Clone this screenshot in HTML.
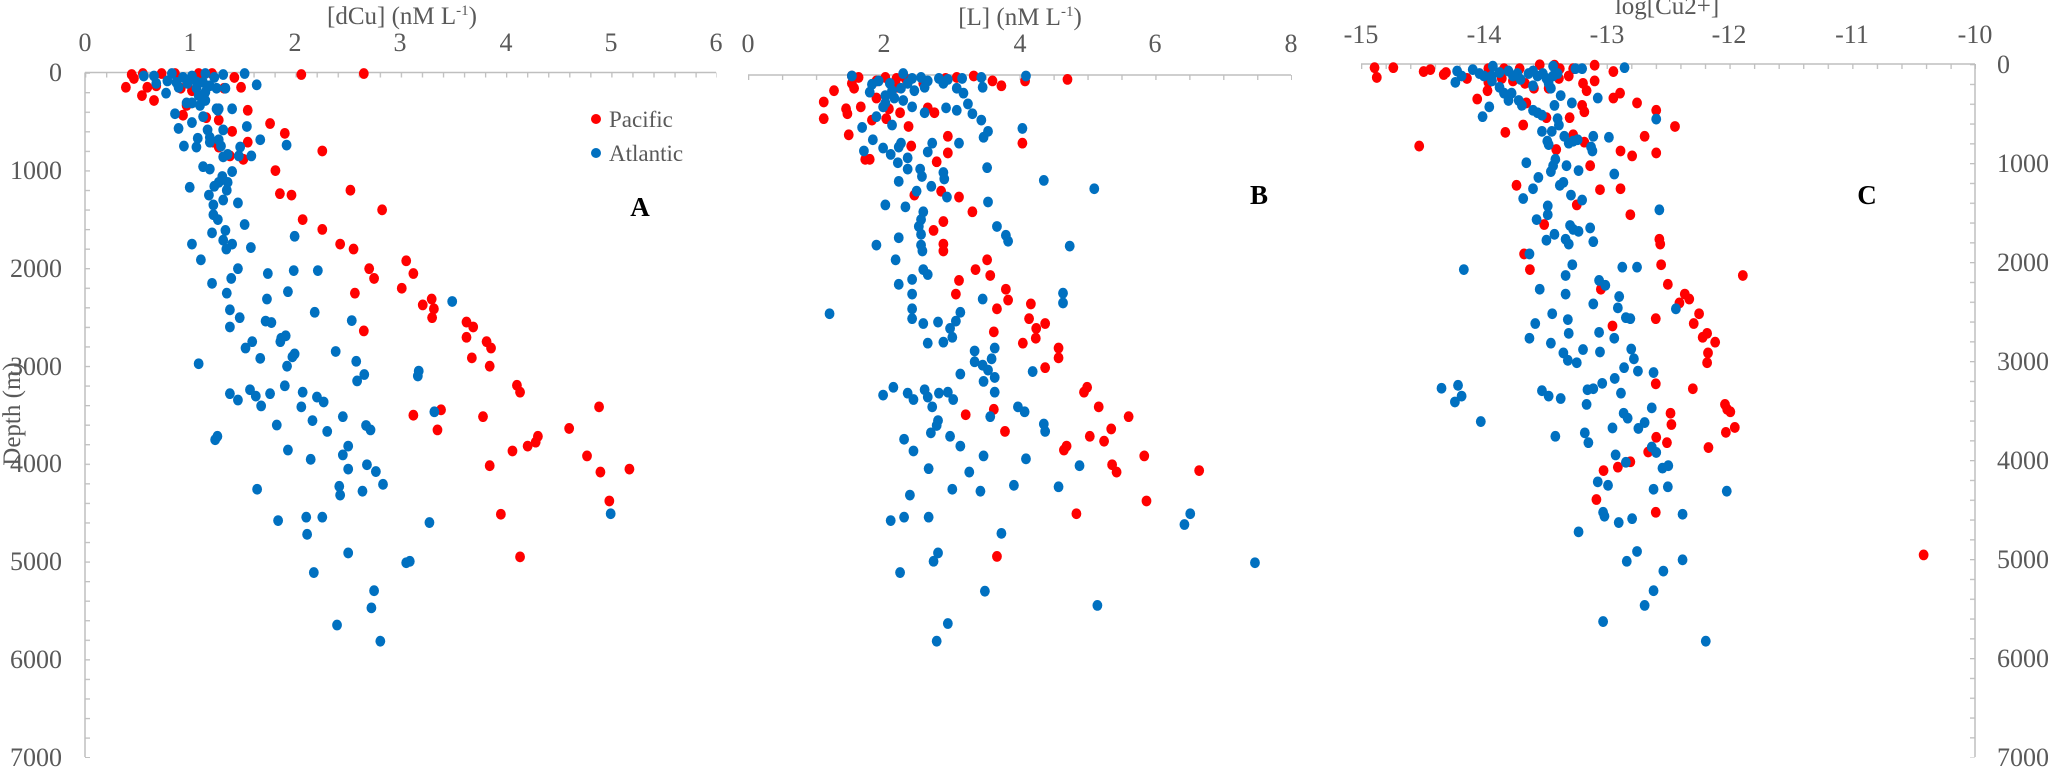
<!DOCTYPE html>
<html><head><meta charset="utf-8"><style>
html,body{margin:0;padding:0;background:#fff;}
svg{display:block;}
text{font-family:"Liberation Serif",serif;fill:#595959;}
circle{r:11px;}
</style></head><body>
<svg width="2050" height="769" viewBox="0 0 2050 769" xmlns="http://www.w3.org/2000/svg">
<defs>
<pattern id="pay" x="0" y="72.5" width="10" height="19.557" patternUnits="userSpaceOnUse"><rect x="0" y="0" width="10" height="1.3" fill="#bfbfbf"/></pattern>
<pattern id="pax" x="85" y="0" width="21.05" height="10" patternUnits="userSpaceOnUse"><rect x="0" y="0" width="1.3" height="10" fill="#bfbfbf"/></pattern>
<pattern id="pbx" x="748" y="0" width="33.94" height="10" patternUnits="userSpaceOnUse"><rect x="0" y="0" width="1.3" height="10" fill="#bfbfbf"/></pattern>
<pattern id="pcx" x="1361" y="0" width="24.56" height="10" patternUnits="userSpaceOnUse"><rect x="0" y="0" width="1.3" height="10" fill="#bfbfbf"/></pattern>
<pattern id="pcy" x="0" y="64" width="10" height="19.8" patternUnits="userSpaceOnUse"><rect x="0" y="0" width="10" height="1.3" fill="#bfbfbf"/></pattern>
</defs>
<rect width="2050" height="769" fill="#fff"/>
<line x1="85" y1="72.5" x2="716" y2="72.5" stroke="#bfbfbf" stroke-width="1.5"/>
<line x1="85" y1="72.5" x2="85" y2="757" stroke="#bfbfbf" stroke-width="1.5"/>
<rect x="85" y="72" width="5" height="686" fill="url(#pay)"/>
<rect x="85" y="72.5" width="632" height="5" fill="url(#pax)"/>
<line x1="748" y1="75" x2="1291" y2="75" stroke="#bfbfbf" stroke-width="1.5"/>
<rect x="748" y="75" width="544" height="5" fill="url(#pbx)"/>
<line x1="1361" y1="64" x2="1975" y2="64" stroke="#bfbfbf" stroke-width="1.5"/>
<line x1="1975" y1="64" x2="1975" y2="757" stroke="#bfbfbf" stroke-width="1.5"/>
<rect x="1361" y="64" width="615" height="5" fill="url(#pcx)"/>
<rect x="1970" y="63.5" width="5" height="694" fill="url(#pcy)"/>

<g font-size="26" text-anchor="middle">
<text x="85" y="51">0</text><text x="190" y="51">1</text><text x="295" y="51">2</text><text x="400" y="51">3</text><text x="506" y="51">4</text><text x="611" y="51">5</text><text x="716" y="51">6</text>
<text x="748" y="52">0</text><text x="884" y="52">2</text><text x="1020" y="52">4</text><text x="1155" y="52">6</text><text x="1291" y="52">8</text>
<text x="1361" y="43">-15</text><text x="1484" y="43">-14</text><text x="1607" y="43">-13</text><text x="1729" y="43">-12</text><text x="1852" y="43">-11</text><text x="1975" y="43">-10</text>
</g>
<g font-size="26" text-anchor="end">
<text x="62" y="81">0</text><text x="62" y="179">1000</text><text x="62" y="277">2000</text><text x="62" y="375">3000</text><text x="62" y="472">4000</text><text x="62" y="570">5000</text><text x="62" y="668">6000</text><text x="62" y="766">7000</text>
</g>
<g font-size="26" text-anchor="start">
<text x="1997" y="73">0</text><text x="1997" y="172">1000</text><text x="1997" y="271">2000</text><text x="1997" y="370">3000</text><text x="1997" y="469">4000</text><text x="1997" y="568">5000</text><text x="1997" y="667">6000</text><text x="1997" y="766">7000</text>
</g>
<text x="402" y="24" font-size="25" text-anchor="middle">[dCu] (nM L<tspan font-size="15" dy="-9">-1</tspan><tspan dy="9">)</tspan></text>
<text x="1020" y="25" font-size="25" text-anchor="middle">[L] (nM L<tspan font-size="15" dy="-9">-1</tspan><tspan dy="9">)</tspan></text>
<text x="1667" y="14" font-size="25" text-anchor="middle">log[Cu2+]</text>
<text transform="translate(20,414) rotate(-90)" font-size="25" text-anchor="middle">Depth (m)</text>
<circle cx="596" cy="119" style="r:5px" fill="#ff0000"/><text x="609" y="127" font-size="23">Pacific</text>
<circle cx="596" cy="153" style="r:5px" fill="#0070c0"/><text x="609" y="161" font-size="23">Atlantic</text>
<g font-size="27" font-weight="bold" text-anchor="middle">
<text x="640" y="216" style="fill:#000">A</text><text x="1259" y="204" style="fill:#000">B</text><text x="1867" y="204" style="fill:#000">C</text>
</g>

<g transform="scale(0.4464,0.4902)">
<g fill="#ff0000">
<circle cx="282" cy="178" r="9"/><circle cx="300" cy="160" r="9"/><circle cx="320" cy="150" r="9"/><circle cx="295" cy="152" r="9"/><circle cx="318" cy="195" r="9"/><circle cx="330" cy="178" r="9"/><circle cx="345" cy="205" r="9"/><circle cx="350" cy="175" r="9"/><circle cx="362" cy="150" r="9"/><circle cx="392" cy="150" r="9"/><circle cx="405" cy="180" r="9"/><circle cx="418" cy="215" r="9"/><circle cx="410" cy="235" r="9"/><circle cx="430" cy="185" r="9"/><circle cx="445" cy="150" r="9"/><circle cx="475" cy="150" r="9"/><circle cx="490" cy="245" r="9"/><circle cx="502" cy="180" r="9"/><circle cx="525" cy="158" r="9"/><circle cx="540" cy="178" r="9"/><circle cx="462" cy="240" r="9"/><circle cx="478" cy="290" r="9"/><circle cx="490" cy="300" r="9"/><circle cx="515" cy="318" r="9"/><circle cx="545" cy="325" r="9"/><circle cx="520" cy="268" r="9"/><circle cx="555" cy="290" r="9"/><circle cx="555" cy="225" r="9"/><circle cx="605" cy="252" r="9"/><circle cx="638" cy="272" r="9"/><circle cx="722" cy="308" r="9"/><circle cx="617" cy="348" r="9"/><circle cx="627" cy="395" r="9"/><circle cx="653" cy="398" r="9"/><circle cx="785" cy="388" r="9"/><circle cx="856" cy="428" r="9"/><circle cx="678" cy="448" r="9"/><circle cx="722" cy="468" r="9"/><circle cx="762" cy="498" r="9"/><circle cx="792" cy="508" r="9"/><circle cx="910" cy="532" r="9"/><circle cx="926" cy="558" r="9"/><circle cx="827" cy="548" r="9"/><circle cx="838" cy="568" r="9"/><circle cx="900" cy="588" r="9"/><circle cx="795" cy="598" r="9"/><circle cx="967" cy="610" r="9"/><circle cx="947" cy="622" r="9"/><circle cx="972" cy="630" r="9"/><circle cx="968" cy="648" r="9"/><circle cx="1045" cy="657" r="9"/><circle cx="1060" cy="667" r="9"/><circle cx="1045" cy="688" r="9"/><circle cx="1090" cy="697" r="9"/><circle cx="1100" cy="710" r="9"/><circle cx="1057" cy="730" r="9"/><circle cx="1097" cy="747" r="9"/><circle cx="1158" cy="786" r="9"/><circle cx="1165" cy="800" r="9"/><circle cx="815" cy="675" r="9"/><circle cx="1342" cy="830" r="9"/><circle cx="988" cy="836" r="9"/><circle cx="926" cy="847" r="9"/><circle cx="1082" cy="850" r="9"/><circle cx="980" cy="877" r="9"/><circle cx="1275" cy="874" r="9"/><circle cx="1205" cy="890" r="9"/><circle cx="1200" cy="902" r="9"/><circle cx="1182" cy="910" r="9"/><circle cx="1148" cy="920" r="9"/><circle cx="1315" cy="930" r="9"/><circle cx="1097" cy="950" r="9"/><circle cx="1345" cy="963" r="9"/><circle cx="1410" cy="957" r="9"/><circle cx="1365" cy="1022" r="9"/><circle cx="1122" cy="1049" r="9"/><circle cx="1165" cy="1136" r="9"/><circle cx="675" cy="152" r="9"/><circle cx="815" cy="150" r="9"/>
</g>
<g fill="#0070c0">
<circle cx="322" cy="155" r="9"/><circle cx="345" cy="155" r="9"/><circle cx="385" cy="150" r="9"/><circle cx="410" cy="158" r="9"/><circle cx="430" cy="155" r="9"/><circle cx="460" cy="150" r="9"/><circle cx="480" cy="158" r="9"/><circle cx="500" cy="152" r="9"/><circle cx="548" cy="150" r="9"/><circle cx="575" cy="173" r="9"/><circle cx="350" cy="170" r="9"/><circle cx="375" cy="165" r="9"/><circle cx="395" cy="168" r="9"/><circle cx="372" cy="190" r="9"/><circle cx="400" cy="178" r="9"/><circle cx="440" cy="180" r="9"/><circle cx="455" cy="168" r="9"/><circle cx="470" cy="175" r="9"/><circle cx="485" cy="180" r="9"/><circle cx="430" cy="210" r="9"/><circle cx="448" cy="215" r="9"/><circle cx="418" cy="210" r="9"/><circle cx="460" cy="205" r="9"/><circle cx="392" cy="232" r="9"/><circle cx="430" cy="250" r="9"/><circle cx="455" cy="238" r="9"/><circle cx="465" cy="265" r="9"/><circle cx="470" cy="280" r="9"/><circle cx="488" cy="225" r="9"/><circle cx="490" cy="285" r="9"/><circle cx="500" cy="265" r="9"/><circle cx="490" cy="222" r="9"/><circle cx="505" cy="180" r="9"/><circle cx="400" cy="262" r="9"/><circle cx="412" cy="298" r="9"/><circle cx="440" cy="300" r="9"/><circle cx="443" cy="282" r="9"/><circle cx="470" cy="290" r="9"/><circle cx="495" cy="298" r="9"/><circle cx="500" cy="320" r="9"/><circle cx="510" cy="315" r="9"/><circle cx="485" cy="222" r="9"/><circle cx="520" cy="222" r="9"/><circle cx="553" cy="258" r="9"/><circle cx="583" cy="285" r="9"/><circle cx="538" cy="300" r="9"/><circle cx="642" cy="296" r="9"/><circle cx="563" cy="318" r="9"/><circle cx="535" cy="318" r="9"/><circle cx="455" cy="340" r="9"/><circle cx="470" cy="345" r="9"/><circle cx="520" cy="350" r="9"/><circle cx="498" cy="360" r="9"/><circle cx="490" cy="372" r="9"/><circle cx="510" cy="372" r="9"/><circle cx="480" cy="380" r="9"/><circle cx="508" cy="388" r="9"/><circle cx="425" cy="382" r="9"/><circle cx="468" cy="398" r="9"/><circle cx="478" cy="418" r="9"/><circle cx="500" cy="408" r="9"/><circle cx="533" cy="414" r="9"/><circle cx="478" cy="438" r="9"/><circle cx="488" cy="448" r="9"/><circle cx="548" cy="458" r="9"/><circle cx="475" cy="475" r="9"/><circle cx="505" cy="470" r="9"/><circle cx="500" cy="490" r="9"/><circle cx="520" cy="498" r="9"/><circle cx="507" cy="508" r="9"/><circle cx="562" cy="505" r="9"/><circle cx="660" cy="482" r="9"/><circle cx="430" cy="498" r="9"/><circle cx="450" cy="530" r="9"/><circle cx="533" cy="548" r="9"/><circle cx="600" cy="558" r="9"/><circle cx="658" cy="552" r="9"/><circle cx="712" cy="552" r="9"/><circle cx="475" cy="578" r="9"/><circle cx="518" cy="568" r="9"/><circle cx="508" cy="598" r="9"/><circle cx="598" cy="610" r="9"/><circle cx="645" cy="595" r="9"/><circle cx="705" cy="637" r="9"/><circle cx="537" cy="648" r="9"/><circle cx="515" cy="632" r="9"/><circle cx="515" cy="667" r="9"/><circle cx="595" cy="655" r="9"/><circle cx="608" cy="658" r="9"/><circle cx="788" cy="654" r="9"/><circle cx="1013" cy="615" r="9"/><circle cx="630" cy="690" r="9"/><circle cx="640" cy="685" r="9"/><circle cx="628" cy="697" r="9"/><circle cx="565" cy="697" r="9"/><circle cx="550" cy="710" r="9"/><circle cx="752" cy="717" r="9"/><circle cx="583" cy="731" r="9"/><circle cx="660" cy="722" r="9"/><circle cx="655" cy="728" r="9"/><circle cx="643" cy="747" r="9"/><circle cx="798" cy="737" r="9"/><circle cx="816" cy="764" r="9"/><circle cx="800" cy="777" r="9"/><circle cx="938" cy="757" r="9"/><circle cx="936" cy="767" r="9"/><circle cx="445" cy="742" r="9"/><circle cx="515" cy="803" r="9"/><circle cx="560" cy="795" r="9"/><circle cx="573" cy="808" r="9"/><circle cx="585" cy="828" r="9"/><circle cx="605" cy="803" r="9"/><circle cx="638" cy="787" r="9"/><circle cx="678" cy="800" r="9"/><circle cx="710" cy="810" r="9"/><circle cx="725" cy="820" r="9"/><circle cx="675" cy="830" r="9"/><circle cx="533" cy="816" r="9"/><circle cx="973" cy="840" r="9"/><circle cx="768" cy="850" r="9"/><circle cx="700" cy="858" r="9"/><circle cx="820" cy="868" r="9"/><circle cx="830" cy="877" r="9"/><circle cx="620" cy="867" r="9"/><circle cx="733" cy="880" r="9"/><circle cx="487" cy="890" r="9"/><circle cx="482" cy="897" r="9"/><circle cx="645" cy="918" r="9"/><circle cx="696" cy="937" r="9"/><circle cx="768" cy="928" r="9"/><circle cx="780" cy="910" r="9"/><circle cx="822" cy="948" r="9"/><circle cx="780" cy="957" r="9"/><circle cx="842" cy="962" r="9"/><circle cx="858" cy="988" r="9"/><circle cx="576" cy="998" r="9"/><circle cx="760" cy="992" r="9"/><circle cx="762" cy="1010" r="9"/><circle cx="812" cy="1002" r="9"/><circle cx="623" cy="1062" r="9"/><circle cx="686" cy="1055" r="9"/><circle cx="722" cy="1055" r="9"/><circle cx="688" cy="1090" r="9"/><circle cx="962" cy="1066" r="9"/><circle cx="1368" cy="1048" r="9"/><circle cx="780" cy="1128" r="9"/><circle cx="910" cy="1148" r="9"/><circle cx="918" cy="1145" r="9"/><circle cx="703" cy="1168" r="9"/><circle cx="838" cy="1205" r="9"/><circle cx="832" cy="1240" r="9"/><circle cx="755" cy="1275" r="9"/><circle cx="852" cy="1308" r="9"/><circle cx="440" cy="167" r="9"/><circle cx="420" cy="170" r="9"/><circle cx="460" cy="188" r="9"/><circle cx="445" cy="195" r="9"/>
</g>
</g>

<g transform="translate(680,0) scale(0.4464,0.4902)">
<g fill="#ff0000">
<circle cx="385" cy="155" r="9"/><circle cx="400" cy="158" r="9"/><circle cx="390" cy="180" r="9"/><circle cx="345" cy="185" r="9"/><circle cx="322" cy="208" r="9"/><circle cx="322" cy="242" r="9"/><circle cx="372" cy="222" r="9"/><circle cx="375" cy="232" r="9"/><circle cx="378" cy="275" r="9"/><circle cx="405" cy="218" r="9"/><circle cx="415" cy="325" r="9"/><circle cx="425" cy="325" r="9"/><circle cx="385" cy="170" r="9"/><circle cx="440" cy="165" r="9"/><circle cx="460" cy="158" r="9"/><circle cx="485" cy="160" r="9"/><circle cx="430" cy="245" r="9"/><circle cx="440" cy="200" r="9"/><circle cx="468" cy="222" r="9"/><circle cx="462" cy="242" r="9"/><circle cx="493" cy="230" r="9"/><circle cx="512" cy="258" r="9"/><circle cx="518" cy="298" r="9"/><circle cx="545" cy="170" r="9"/><circle cx="555" cy="220" r="9"/><circle cx="570" cy="230" r="9"/><circle cx="600" cy="278" r="9"/><circle cx="600" cy="312" r="9"/><circle cx="575" cy="330" r="9"/><circle cx="585" cy="390" r="9"/><circle cx="525" cy="398" r="9"/><circle cx="625" cy="402" r="9"/><circle cx="655" cy="432" r="9"/><circle cx="590" cy="452" r="9"/><circle cx="568" cy="470" r="9"/><circle cx="590" cy="498" r="9"/><circle cx="590" cy="512" r="9"/><circle cx="595" cy="160" r="9"/><circle cx="620" cy="158" r="9"/><circle cx="658" cy="155" r="9"/><circle cx="700" cy="165" r="9"/><circle cx="720" cy="175" r="9"/><circle cx="773" cy="165" r="9"/><circle cx="868" cy="162" r="9"/><circle cx="767" cy="292" r="9"/><circle cx="688" cy="530" r="9"/><circle cx="662" cy="550" r="9"/><circle cx="695" cy="562" r="9"/><circle cx="625" cy="572" r="9"/><circle cx="618" cy="600" r="9"/><circle cx="730" cy="590" r="9"/><circle cx="735" cy="612" r="9"/><circle cx="710" cy="630" r="9"/><circle cx="786" cy="620" r="9"/><circle cx="782" cy="650" r="9"/><circle cx="798" cy="670" r="9"/><circle cx="818" cy="660" r="9"/><circle cx="797" cy="690" r="9"/><circle cx="703" cy="677" r="9"/><circle cx="768" cy="700" r="9"/><circle cx="848" cy="710" r="9"/><circle cx="848" cy="730" r="9"/><circle cx="818" cy="750" r="9"/><circle cx="905" cy="800" r="9"/><circle cx="912" cy="790" r="9"/><circle cx="938" cy="830" r="9"/><circle cx="1005" cy="850" r="9"/><circle cx="703" cy="835" r="9"/><circle cx="640" cy="846" r="9"/><circle cx="728" cy="880" r="9"/><circle cx="918" cy="890" r="9"/><circle cx="966" cy="875" r="9"/><circle cx="950" cy="900" r="9"/><circle cx="866" cy="910" r="9"/><circle cx="860" cy="918" r="9"/><circle cx="1040" cy="930" r="9"/><circle cx="968" cy="948" r="9"/><circle cx="978" cy="963" r="9"/><circle cx="1163" cy="960" r="9"/><circle cx="1045" cy="1022" r="9"/><circle cx="888" cy="1048" r="9"/><circle cx="710" cy="1135" r="9"/><circle cx="488" cy="178" r="9"/><circle cx="505" cy="160" r="9"/>
</g>
<g fill="#0070c0">
<circle cx="385" cy="155" r="9"/><circle cx="430" cy="172" r="9"/><circle cx="425" cy="188" r="9"/><circle cx="445" cy="165" r="9"/><circle cx="470" cy="170" r="9"/><circle cx="500" cy="150" r="9"/><circle cx="520" cy="160" r="9"/><circle cx="540" cy="158" r="9"/><circle cx="555" cy="165" r="9"/><circle cx="580" cy="160" r="9"/><circle cx="600" cy="162" r="9"/><circle cx="632" cy="160" r="9"/><circle cx="675" cy="158" r="9"/><circle cx="678" cy="178" r="9"/><circle cx="775" cy="155" r="9"/><circle cx="460" cy="195" r="9"/><circle cx="475" cy="185" r="9"/><circle cx="495" cy="180" r="9"/><circle cx="510" cy="170" r="9"/><circle cx="525" cy="185" r="9"/><circle cx="548" cy="178" r="9"/><circle cx="590" cy="170" r="9"/><circle cx="620" cy="180" r="9"/><circle cx="635" cy="190" r="9"/><circle cx="460" cy="210" r="9"/><circle cx="480" cy="200" r="9"/><circle cx="500" cy="205" r="9"/><circle cx="455" cy="218" r="9"/><circle cx="475" cy="255" r="9"/><circle cx="440" cy="238" r="9"/><circle cx="408" cy="260" r="9"/><circle cx="520" cy="218" r="9"/><circle cx="548" cy="230" r="9"/><circle cx="596" cy="220" r="9"/><circle cx="620" cy="225" r="9"/><circle cx="645" cy="212" r="9"/><circle cx="655" cy="232" r="9"/><circle cx="675" cy="245" r="9"/><circle cx="680" cy="280" r="9"/><circle cx="690" cy="268" r="9"/><circle cx="767" cy="262" r="9"/><circle cx="625" cy="292" r="9"/><circle cx="432" cy="285" r="9"/><circle cx="412" cy="308" r="9"/><circle cx="455" cy="302" r="9"/><circle cx="472" cy="315" r="9"/><circle cx="490" cy="300" r="9"/><circle cx="495" cy="292" r="9"/><circle cx="510" cy="322" r="9"/><circle cx="555" cy="310" r="9"/><circle cx="565" cy="292" r="9"/><circle cx="488" cy="332" r="9"/><circle cx="510" cy="345" r="9"/><circle cx="538" cy="345" r="9"/><circle cx="542" cy="360" r="9"/><circle cx="590" cy="352" r="9"/><circle cx="592" cy="365" r="9"/><circle cx="688" cy="342" r="9"/><circle cx="490" cy="370" r="9"/><circle cx="530" cy="390" r="9"/><circle cx="563" cy="380" r="9"/><circle cx="598" cy="402" r="9"/><circle cx="505" cy="422" r="9"/><circle cx="460" cy="418" r="9"/><circle cx="690" cy="412" r="9"/><circle cx="815" cy="368" r="9"/><circle cx="928" cy="385" r="9"/><circle cx="545" cy="432" r="9"/><circle cx="540" cy="448" r="9"/><circle cx="535" cy="462" r="9"/><circle cx="540" cy="478" r="9"/><circle cx="710" cy="462" r="9"/><circle cx="730" cy="480" r="9"/><circle cx="735" cy="492" r="9"/><circle cx="490" cy="485" r="9"/><circle cx="440" cy="500" r="9"/><circle cx="540" cy="500" r="9"/><circle cx="543" cy="512" r="9"/><circle cx="873" cy="502" r="9"/><circle cx="483" cy="530" r="9"/><circle cx="545" cy="550" r="9"/><circle cx="555" cy="560" r="9"/><circle cx="520" cy="570" r="9"/><circle cx="490" cy="580" r="9"/><circle cx="520" cy="600" r="9"/><circle cx="678" cy="610" r="9"/><circle cx="858" cy="598" r="9"/><circle cx="858" cy="618" r="9"/><circle cx="335" cy="640" r="9"/><circle cx="520" cy="630" r="9"/><circle cx="628" cy="637" r="9"/><circle cx="520" cy="650" r="9"/><circle cx="545" cy="660" r="9"/><circle cx="578" cy="657" r="9"/><circle cx="618" cy="655" r="9"/><circle cx="605" cy="670" r="9"/><circle cx="610" cy="688" r="9"/><circle cx="590" cy="698" r="9"/><circle cx="555" cy="700" r="9"/><circle cx="705" cy="710" r="9"/><circle cx="660" cy="716" r="9"/><circle cx="698" cy="732" r="9"/><circle cx="660" cy="738" r="9"/><circle cx="678" cy="745" r="9"/><circle cx="690" cy="755" r="9"/><circle cx="628" cy="763" r="9"/><circle cx="790" cy="758" r="9"/><circle cx="705" cy="770" r="9"/><circle cx="680" cy="778" r="9"/><circle cx="478" cy="790" r="9"/><circle cx="455" cy="806" r="9"/><circle cx="510" cy="802" r="9"/><circle cx="523" cy="815" r="9"/><circle cx="548" cy="795" r="9"/><circle cx="555" cy="810" r="9"/><circle cx="580" cy="802" r="9"/><circle cx="600" cy="800" r="9"/><circle cx="612" cy="815" r="9"/><circle cx="565" cy="830" r="9"/><circle cx="705" cy="800" r="9"/><circle cx="757" cy="830" r="9"/><circle cx="772" cy="840" r="9"/><circle cx="695" cy="850" r="9"/><circle cx="815" cy="865" r="9"/><circle cx="818" cy="880" r="9"/><circle cx="578" cy="858" r="9"/><circle cx="575" cy="868" r="9"/><circle cx="562" cy="883" r="9"/><circle cx="605" cy="890" r="9"/><circle cx="502" cy="896" r="9"/><circle cx="628" cy="910" r="9"/><circle cx="523" cy="920" r="9"/><circle cx="680" cy="930" r="9"/><circle cx="775" cy="936" r="9"/><circle cx="895" cy="950" r="9"/><circle cx="557" cy="956" r="9"/><circle cx="648" cy="963" r="9"/><circle cx="748" cy="990" r="9"/><circle cx="848" cy="993" r="9"/><circle cx="610" cy="998" r="9"/><circle cx="673" cy="1002" r="9"/><circle cx="515" cy="1010" r="9"/><circle cx="472" cy="1062" r="9"/><circle cx="502" cy="1055" r="9"/><circle cx="557" cy="1055" r="9"/><circle cx="1143" cy="1048" r="9"/><circle cx="1130" cy="1070" r="9"/><circle cx="720" cy="1088" r="9"/><circle cx="578" cy="1128" r="9"/><circle cx="568" cy="1145" r="9"/><circle cx="493" cy="1168" r="9"/><circle cx="1288" cy="1148" r="9"/><circle cx="683" cy="1206" r="9"/><circle cx="935" cy="1235" r="9"/><circle cx="600" cy="1272" r="9"/><circle cx="575" cy="1308" r="9"/>
</g>
</g>

<g transform="translate(1350,0) scale(0.4464,0.4902)">
<g fill="#ff0000">
<circle cx="55" cy="138" r="9"/><circle cx="60" cy="158" r="9"/><circle cx="97" cy="138" r="9"/><circle cx="165" cy="146" r="9"/><circle cx="180" cy="142" r="9"/><circle cx="210" cy="152" r="9"/><circle cx="215" cy="148" r="9"/><circle cx="262" cy="160" r="9"/><circle cx="310" cy="140" r="9"/><circle cx="345" cy="140" r="9"/><circle cx="380" cy="140" r="9"/><circle cx="425" cy="132" r="9"/><circle cx="458" cy="133" r="9"/><circle cx="470" cy="140" r="9"/><circle cx="500" cy="140" r="9"/><circle cx="548" cy="133" r="9"/><circle cx="590" cy="146" r="9"/><circle cx="310" cy="168" r="9"/><circle cx="308" cy="185" r="9"/><circle cx="285" cy="202" r="9"/><circle cx="340" cy="160" r="9"/><circle cx="365" cy="165" r="9"/><circle cx="392" cy="170" r="9"/><circle cx="412" cy="180" r="9"/><circle cx="445" cy="180" r="9"/><circle cx="440" cy="240" r="9"/><circle cx="395" cy="210" r="9"/><circle cx="468" cy="160" r="9"/><circle cx="490" cy="155" r="9"/><circle cx="522" cy="170" r="9"/><circle cx="548" cy="165" r="9"/><circle cx="530" cy="185" r="9"/><circle cx="590" cy="200" r="9"/><circle cx="605" cy="190" r="9"/><circle cx="643" cy="210" r="9"/><circle cx="520" cy="215" r="9"/><circle cx="525" cy="228" r="9"/><circle cx="492" cy="240" r="9"/><circle cx="686" cy="225" r="9"/><circle cx="728" cy="258" r="9"/><circle cx="660" cy="278" r="9"/><circle cx="348" cy="270" r="9"/><circle cx="388" cy="255" r="9"/><circle cx="500" cy="275" r="9"/><circle cx="525" cy="290" r="9"/><circle cx="462" cy="305" r="9"/><circle cx="155" cy="298" r="9"/><circle cx="606" cy="308" r="9"/><circle cx="632" cy="318" r="9"/><circle cx="686" cy="312" r="9"/><circle cx="538" cy="338" r="9"/><circle cx="373" cy="378" r="9"/><circle cx="560" cy="387" r="9"/><circle cx="606" cy="385" r="9"/><circle cx="508" cy="418" r="9"/><circle cx="628" cy="438" r="9"/><circle cx="435" cy="458" r="9"/><circle cx="693" cy="488" r="9"/><circle cx="695" cy="498" r="9"/><circle cx="390" cy="518" r="9"/><circle cx="403" cy="550" r="9"/><circle cx="697" cy="540" r="9"/><circle cx="880" cy="562" r="9"/><circle cx="712" cy="580" r="9"/><circle cx="562" cy="590" r="9"/><circle cx="750" cy="600" r="9"/><circle cx="760" cy="610" r="9"/><circle cx="738" cy="618" r="9"/><circle cx="782" cy="640" r="9"/><circle cx="770" cy="660" r="9"/><circle cx="685" cy="650" r="9"/><circle cx="588" cy="665" r="9"/><circle cx="800" cy="680" r="9"/><circle cx="790" cy="688" r="9"/><circle cx="818" cy="698" r="9"/><circle cx="802" cy="720" r="9"/><circle cx="800" cy="740" r="9"/><circle cx="685" cy="783" r="9"/><circle cx="768" cy="793" r="9"/><circle cx="840" cy="825" r="9"/><circle cx="845" cy="835" r="9"/><circle cx="852" cy="840" r="9"/><circle cx="718" cy="843" r="9"/><circle cx="720" cy="866" r="9"/><circle cx="862" cy="872" r="9"/><circle cx="842" cy="882" r="9"/><circle cx="686" cy="892" r="9"/><circle cx="710" cy="903" r="9"/><circle cx="668" cy="922" r="9"/><circle cx="803" cy="913" r="9"/><circle cx="628" cy="942" r="9"/><circle cx="600" cy="953" r="9"/><circle cx="568" cy="960" r="9"/><circle cx="552" cy="1019" r="9"/><circle cx="685" cy="1045" r="9"/><circle cx="1285" cy="1132" r="9"/>
</g>
<g fill="#0070c0">
<circle cx="240" cy="145" r="9"/><circle cx="250" cy="155" r="9"/><circle cx="236" cy="168" r="9"/><circle cx="275" cy="142" r="9"/><circle cx="290" cy="150" r="9"/><circle cx="300" cy="155" r="9"/><circle cx="320" cy="135" r="9"/><circle cx="318" cy="155" r="9"/><circle cx="318" cy="165" r="9"/><circle cx="335" cy="148" r="9"/><circle cx="355" cy="145" r="9"/><circle cx="365" cy="155" r="9"/><circle cx="375" cy="150" r="9"/><circle cx="382" cy="162" r="9"/><circle cx="400" cy="150" r="9"/><circle cx="410" cy="145" r="9"/><circle cx="420" cy="155" r="9"/><circle cx="432" cy="150" r="9"/><circle cx="440" cy="160" r="9"/><circle cx="455" cy="135" r="9"/><circle cx="455" cy="155" r="9"/><circle cx="465" cy="150" r="9"/><circle cx="505" cy="140" r="9"/><circle cx="520" cy="140" r="9"/><circle cx="615" cy="138" r="9"/><circle cx="335" cy="178" r="9"/><circle cx="345" cy="190" r="9"/><circle cx="355" cy="205" r="9"/><circle cx="362" cy="190" r="9"/><circle cx="378" cy="205" r="9"/><circle cx="385" cy="215" r="9"/><circle cx="410" cy="175" r="9"/><circle cx="445" cy="170" r="9"/><circle cx="450" cy="180" r="9"/><circle cx="312" cy="218" r="9"/><circle cx="297" cy="238" r="9"/><circle cx="410" cy="225" r="9"/><circle cx="420" cy="230" r="9"/><circle cx="430" cy="235" r="9"/><circle cx="458" cy="215" r="9"/><circle cx="472" cy="195" r="9"/><circle cx="497" cy="210" r="9"/><circle cx="555" cy="200" r="9"/><circle cx="465" cy="242" r="9"/><circle cx="468" cy="255" r="9"/><circle cx="452" cy="268" r="9"/><circle cx="430" cy="268" r="9"/><circle cx="442" cy="288" r="9"/><circle cx="445" cy="295" r="9"/><circle cx="480" cy="278" r="9"/><circle cx="490" cy="292" r="9"/><circle cx="500" cy="288" r="9"/><circle cx="510" cy="285" r="9"/><circle cx="545" cy="278" r="9"/><circle cx="580" cy="280" r="9"/><circle cx="540" cy="300" r="9"/><circle cx="543" cy="308" r="9"/><circle cx="686" cy="243" r="9"/><circle cx="460" cy="325" r="9"/><circle cx="455" cy="338" r="9"/><circle cx="395" cy="332" r="9"/><circle cx="485" cy="338" r="9"/><circle cx="512" cy="348" r="9"/><circle cx="592" cy="355" r="9"/><circle cx="450" cy="350" r="9"/><circle cx="422" cy="362" r="9"/><circle cx="410" cy="385" r="9"/><circle cx="388" cy="405" r="9"/><circle cx="478" cy="372" r="9"/><circle cx="470" cy="378" r="9"/><circle cx="495" cy="398" r="9"/><circle cx="520" cy="408" r="9"/><circle cx="443" cy="420" r="9"/><circle cx="443" cy="438" r="9"/><circle cx="418" cy="448" r="9"/><circle cx="458" cy="478" r="9"/><circle cx="440" cy="490" r="9"/><circle cx="493" cy="460" r="9"/><circle cx="500" cy="468" r="9"/><circle cx="512" cy="472" r="9"/><circle cx="483" cy="488" r="9"/><circle cx="490" cy="498" r="9"/><circle cx="538" cy="465" r="9"/><circle cx="545" cy="493" r="9"/><circle cx="402" cy="518" r="9"/><circle cx="693" cy="428" r="9"/><circle cx="255" cy="550" r="9"/><circle cx="498" cy="540" r="9"/><circle cx="483" cy="562" r="9"/><circle cx="610" cy="545" r="9"/><circle cx="643" cy="545" r="9"/><circle cx="558" cy="572" r="9"/><circle cx="572" cy="582" r="9"/><circle cx="425" cy="590" r="9"/><circle cx="483" cy="600" r="9"/><circle cx="545" cy="620" r="9"/><circle cx="603" cy="605" r="9"/><circle cx="600" cy="628" r="9"/><circle cx="453" cy="640" r="9"/><circle cx="488" cy="652" r="9"/><circle cx="415" cy="660" r="9"/><circle cx="402" cy="690" r="9"/><circle cx="490" cy="680" r="9"/><circle cx="558" cy="678" r="9"/><circle cx="592" cy="690" r="9"/><circle cx="618" cy="648" r="9"/><circle cx="628" cy="650" r="9"/><circle cx="730" cy="630" r="9"/><circle cx="450" cy="700" r="9"/><circle cx="478" cy="720" r="9"/><circle cx="488" cy="735" r="9"/><circle cx="508" cy="740" r="9"/><circle cx="522" cy="713" r="9"/><circle cx="560" cy="718" r="9"/><circle cx="630" cy="712" r="9"/><circle cx="636" cy="732" r="9"/><circle cx="614" cy="750" r="9"/><circle cx="645" cy="757" r="9"/><circle cx="680" cy="760" r="9"/><circle cx="593" cy="772" r="9"/><circle cx="607" cy="802" r="9"/><circle cx="205" cy="792" r="9"/><circle cx="242" cy="786" r="9"/><circle cx="250" cy="808" r="9"/><circle cx="235" cy="820" r="9"/><circle cx="430" cy="797" r="9"/><circle cx="445" cy="808" r="9"/><circle cx="472" cy="813" r="9"/><circle cx="532" cy="795" r="9"/><circle cx="545" cy="793" r="9"/><circle cx="565" cy="782" r="9"/><circle cx="530" cy="825" r="9"/><circle cx="613" cy="843" r="9"/><circle cx="622" cy="853" r="9"/><circle cx="676" cy="832" r="9"/><circle cx="660" cy="862" r="9"/><circle cx="646" cy="874" r="9"/><circle cx="588" cy="873" r="9"/><circle cx="526" cy="883" r="9"/><circle cx="534" cy="903" r="9"/><circle cx="460" cy="890" r="9"/><circle cx="293" cy="860" r="9"/><circle cx="676" cy="912" r="9"/><circle cx="686" cy="923" r="9"/><circle cx="595" cy="928" r="9"/><circle cx="618" cy="943" r="9"/><circle cx="700" cy="955" r="9"/><circle cx="713" cy="950" r="9"/><circle cx="555" cy="983" r="9"/><circle cx="578" cy="990" r="9"/><circle cx="680" cy="998" r="9"/><circle cx="712" cy="993" r="9"/><circle cx="844" cy="1002" r="9"/><circle cx="567" cy="1045" r="9"/><circle cx="570" cy="1053" r="9"/><circle cx="602" cy="1066" r="9"/><circle cx="632" cy="1058" r="9"/><circle cx="745" cy="1049" r="9"/><circle cx="512" cy="1085" r="9"/><circle cx="643" cy="1125" r="9"/><circle cx="620" cy="1145" r="9"/><circle cx="702" cy="1165" r="9"/><circle cx="745" cy="1142" r="9"/><circle cx="680" cy="1205" r="9"/><circle cx="660" cy="1235" r="9"/><circle cx="567" cy="1268" r="9"/><circle cx="797" cy="1308" r="9"/>
</g>
</g>
</svg>
</body></html>
